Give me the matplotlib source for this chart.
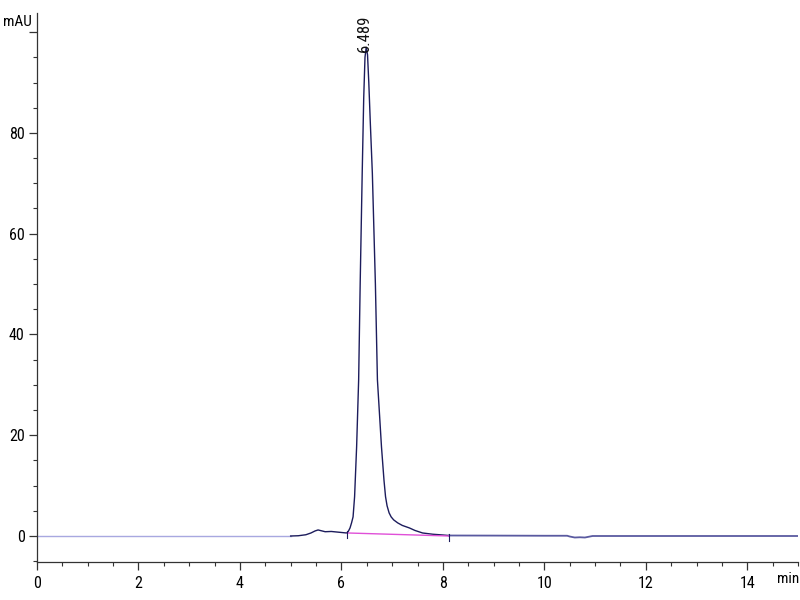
import matplotlib
matplotlib.use("Agg")
import matplotlib.pyplot as plt
from matplotlib.ticker import MultipleLocator, FixedLocator

# ---- data ----
pre_time = [0.0, 5.0]
pre_signal = [0.0, 0.0]

main_time = [5.0, 5.15, 5.3, 5.4, 5.48, 5.54, 5.6, 5.68, 5.8, 5.95, 6.05, 6.1, 6.13,
             6.17, 6.2, 6.23, 6.26, 6.30, 6.34, 6.37, 6.41, 6.44, 6.465, 6.489,
             6.515, 6.54, 6.57, 6.61, 6.67, 6.71, 6.79, 6.84, 6.87, 6.9, 6.94, 6.98,
             7.03, 7.11, 7.2, 7.34, 7.45, 7.6, 7.8, 8.0, 8.12]
main_signal = [0.0, 0.05, 0.25, 0.6, 1.0, 1.2, 1.05, 0.85, 0.9, 0.75, 0.65, 0.6, 0.8,
               1.6, 2.6, 3.8, 7.8, 17.7, 31.0, 50.0, 72.0, 87.0, 95.0, 97.0,
               95.5, 90.0, 82.0, 72.0, 50.0, 31.0, 17.7, 11.0, 7.8, 6.0, 4.6, 3.8,
               3.2, 2.6, 2.1, 1.6, 1.1, 0.6, 0.35, 0.2, 0.1]

post_time = [8.12, 9.0, 10.0, 10.45, 10.5, 10.6, 10.7, 10.8, 10.9, 10.95, 12.0, 13.0, 14.0, 15.0]
post_signal = [0.1, 0.08, 0.05, 0.05, -0.1, -0.3, -0.25, -0.3, -0.1, 0.0, 0.0, 0.0, 0.0, 0.0]

base_time = [6.12, 8.12]
base_signal = [0.6, 0.0]

peak_rt = 6.489
peak_height = 97.0
peak_label = "6.489"

xticks = [0, 2, 4, 6, 8, 10, 12, 14]
yticks = [0, 20, 40, 60, 80, 100]
ytick_labels = ["0", "20", "40", "60", "80", ""]

plt.rcParams["font.family"] = ["Roboto Condensed", "DejaVu Sans"]

fig = plt.figure(figsize=(8, 6), dpi=100)
ax = fig.add_axes([37 / 800, 1 - 562 / 600, (798 - 37) / 800, (562 - 13) / 600])

ax.plot(pre_time, pre_signal, color="#a8a8e0", lw=1.0)
ax.plot(main_time, main_signal, color="#1c1c5c", lw=1.0)
ax.plot(post_time, post_signal, color="#5a5aa0", lw=1.3)
ax.plot(base_time, base_signal, color="#e050d8", lw=1.0)
for t, s in zip(base_time, base_signal):
    ax.plot([t, t], [s - 1.0, s + 0.4], color="#1c1c5c", lw=0.8)

ax.text(peak_rt - 0.03, peak_height - 0.9, peak_label, rotation=90, ha="center", va="bottom",
        fontsize=12, color="#111111")

ax.set_xlim(0, 15)
ax.set_ylim(-5.16, 103.8)
ax.xaxis.set_major_locator(FixedLocator(xticks))
ax.xaxis.set_minor_locator(MultipleLocator(0.5))
ax.yaxis.set_major_locator(FixedLocator(yticks))
ax.set_yticklabels(ytick_labels)
ax.yaxis.set_minor_locator(MultipleLocator(5))

for s in ["top", "right"]:
    ax.spines[s].set_visible(False)
for s in ["left", "bottom"]:
    ax.spines[s].set_color("#333333")
    ax.spines[s].set_linewidth(0.9)

ax.tick_params(axis="both", which="major", length=6, width=0.9, color="#333333",
               labelsize=11.5, direction="out")
ax.tick_params(axis="both", which="minor", length=3, width=0.8, color="#333333", direction="out")
ax.tick_params(axis="y", pad=3)
ax.tick_params(axis="x", pad=4)

fig.text(3 / 800, 1 - 22 / 600, "mAU", fontsize=11, va="center", ha="left")
fig.text(777 / 800, 1 - 579 / 600, "min", fontsize=11, va="center", ha="left")

fig.savefig("out.png", dpi=100)
